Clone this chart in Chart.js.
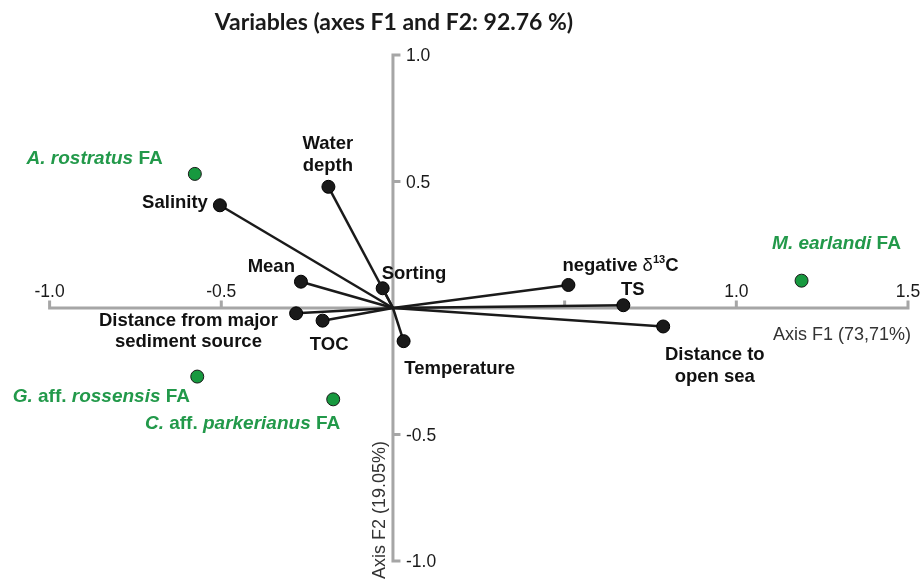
<!DOCTYPE html>
<html>
<head>
<meta charset="utf-8">
<title>Variables (axes F1 and F2: 92.76 %)</title>
<script src="https://cdn.jsdelivr.net/npm/chart.js@4.4.1/dist/chart.umd.min.js"></script>
<style>
  html, body { margin: 0; padding: 0; background: #fff; }
  #wrap { width: 922px; height: 581px; }
</style>
</head>
<body>
<div id="wrap"><canvas id="pcaChart" width="922" height="581"></canvas></div>
<script>
// PCA loadings (F1, F2) of the environmental variables
const variableLabels = ['Water\ndepth', 'Salinity', 'Mean', 'Sorting', 'negative [δ]{13}C', 'TS',
    'Distance to\nopen sea', 'Temperature', 'Distance from major\nsediment source', 'TOC'];
const variableF1 = [-0.188, -0.504, -0.268, -0.030, 0.511, 0.671, 0.787, 0.031, -0.282, -0.205];
const variableF2 = [0.479, 0.406, 0.104, 0.078, 0.091, 0.011, -0.073, -0.131, -0.021, -0.050];

// supplementary points: foraminiferal assemblages
const speciesLabels = ['/A. rostratus/ FA', '/M. earlandi/ FA', '/G./ aff. /rossensis/ FA', '/C./ aff. /parkerianus/ FA'];
const speciesF1 = [-0.577, 1.190, -0.570, -0.174];
const speciesF2 = [0.530, 0.108, -0.271, -0.361];

// axis ticks
const f1Ticks = [-1.0, -0.5, 0.5, 1.0, 1.5];
const f1TickLabels = ['-1.0', '-0.5', '', '1.0', '1.5'];
const f2Ticks = [1.0, 0.5, -0.5, -1.0];
const f2TickLabels = ['1.0', '0.5', '-0.5', '-1.0'];

const chartTitle = 'Variables (axes F1 and F2: 92.76 %)';
const f1Title = 'Axis F1 (73,71%)';
const f2Title = 'Axis F2 (19.05%)';

const AXIS_COLOR = '#a6a6a6';
const DOT_COLOR = '#1a1a1a';
const GREEN = '#17993f';
const GREEN_TEXT = '#22994a';
const SANS = '"Liberation Sans", Arial, sans-serif';
const LABEL_SIZE = 18.5;

// label placement, offsets in px from the marker
const variableLabelPos = [
    { align: 'center', dx: -0.6, dy: -44 },
    { align: 'right', dx: -12, dy: -3.6 },
    { align: 'right', dx: -6, dy: -16.7 },
    { align: 'left', dx: -1, dy: -16 },
    { align: 'left', dx: -6, dy: -21 },
    { align: 'center', dx: 9.4, dy: -16.6 },
    { align: 'center', dx: 51.6, dy: 27 },
    { align: 'left', dx: 0.7, dy: 26.3 },
    { align: 'center', dx: -107.7, dy: 5.7 },
    { align: 'center', dx: 6.6, dy: 22.6 }
];
const speciesLabelPos = [
    { align: 'left', dx: -168.3, dy: -16.7 },
    { align: 'left', dx: -29.5, dy: -38.8 },
    { align: 'left', dx: -184.6, dy: 18.3 },
    { align: 'left', dx: -188.3, dy: 22.4 }
];

// '/x/' italic, '[x]' plain symbol, '{x}' superscript, rest bold
function parseRich(line) {
    return line.split(/(\/[^\/]+\/|\[[^\]]+\]|\{[^}]+\})/).filter(s => s).map(s => {
        if (s[0] === '/') return { t: s.slice(1, -1), style: 'italic bold' };
        if (s[0] === '[') return { t: s.slice(1, -1), style: 'normal' };
        if (s[0] === '{') return { t: s.slice(1, -1), style: 'sup' };
        return { t: s, style: 'bold' };
    });
}

function segFont(style, size) {
    if (style === 'sup') return `bold ${size * 0.6}px ${SANS}`;
    return `${style} ${size}px ${SANS}`;
}

function drawRich(ctx, line, x, cy, align, color, size) {
    const segs = parseRich(line);
    let total = 0;
    segs.forEach(s => { ctx.font = segFont(s.style, size); s.w = ctx.measureText(s.t).width; total += s.w; });
    let cx = align === 'left' ? x : align === 'right' ? x - total : x - total / 2;
    const base = cy + size * 0.358;
    ctx.fillStyle = color;
    ctx.textAlign = 'left';
    ctx.textBaseline = 'alphabetic';
    segs.forEach(s => {
        ctx.font = segFont(s.style, size);
        ctx.fillText(s.t, cx, s.style === 'sup' ? base - size * 0.42 : base);
        cx += s.w;
    });
}

function drawLabels(ctx, xs, ys, f1, f2, labels, layout, color, size) {
    labels.forEach((label, i) => {
        const px = xs.getPixelForValue(f1[i]);
        const py = ys.getPixelForValue(f2[i]);
        const pos = layout[i];
        label.split('\n').forEach((line, k) => {
            drawRich(ctx, line, px + pos.dx, py + pos.dy + k * 21.5, pos.align, color, size);
        });
    });
}

const pcaDecor = {
    id: 'pcaDecor',
    beforeDatasetsDraw(chart) {
        const { ctx, scales: { x, y } } = chart;
        const x0 = x.getPixelForValue(0);
        const y0 = y.getPixelForValue(0);
        ctx.save();
        ctx.strokeStyle = AXIS_COLOR;
        ctx.lineWidth = 3;
        ctx.lineCap = 'butt';

        // F1 axis with upward ticks
        ctx.beginPath();
        ctx.moveTo(x.getPixelForValue(-1) - 1.5, y0);
        ctx.lineTo(x.getPixelForValue(1.5) + 1.5, y0);
        f1Ticks.forEach(v => {
            const px = x.getPixelForValue(v);
            ctx.moveTo(px, y0);
            ctx.lineTo(px, y0 - 7.5);
        });
        // F2 axis with ticks to the right
        ctx.moveTo(x0, y.getPixelForValue(1) - 1.5);
        ctx.lineTo(x0, y.getPixelForValue(-1) + 1.5);
        f2Ticks.forEach(v => {
            const py = y.getPixelForValue(v);
            ctx.moveTo(x0, py);
            ctx.lineTo(x0 + 7.5, py);
        });
        ctx.stroke();

        // tick labels
        ctx.fillStyle = '#1a1a1a';
        ctx.font = `17.5px ${SANS}`;
        ctx.textBaseline = 'alphabetic';
        ctx.textAlign = 'center';
        f1Ticks.forEach((v, i) => {
            ctx.fillText(f1TickLabels[i], x.getPixelForValue(v), y0 - 17 + 6.3);
        });
        ctx.textAlign = 'left';
        f2Ticks.forEach((v, i) => {
            ctx.fillText(f2TickLabels[i], x0 + 13, y.getPixelForValue(v) + 6.3);
        });

        // axis titles
        ctx.fillStyle = '#333';
        ctx.font = `18px ${SANS}`;
        ctx.textAlign = 'right';
        ctx.fillText(f1Title, x.getPixelForValue(1.5) + 3, y0 + 26 + 6.4);
        ctx.save();
        ctx.translate(x0 - 13, y.getPixelForValue(-1) - 51);
        ctx.rotate(-Math.PI / 2);
        ctx.textAlign = 'center';
        ctx.textBaseline = 'middle';
        ctx.fillText(f2Title, 0, 0);
        ctx.restore();

        // chart title
        ctx.fillStyle = '#1a1a1a';
        ctx.font = 'bold 23px Lato, "Open Sans", sans-serif';
        ctx.textAlign = 'center';
        ctx.textBaseline = 'alphabetic';
        ctx.fillText(chartTitle, x0 + 1, 30);
        ctx.restore();
    },
    afterDatasetsDraw(chart) {
        const { ctx, scales: { x, y } } = chart;
        ctx.save();
        drawLabels(ctx, x, y, variableF1, variableF2, variableLabels, variableLabelPos, '#111', LABEL_SIZE);
        drawLabels(ctx, x, y, speciesF1, speciesF2, speciesLabels, speciesLabelPos, GREEN_TEXT, 19);
        ctx.restore();
    }
};

// one segment from the origin to each loading
const vectorSets = variableF1.map((f1, i) => ({
    label: variableLabels[i].replace('\n', ' '),
    data: [{ x: 0, y: 0 }, { x: f1, y: variableF2[i] }],
    showLine: true,
    borderColor: DOT_COLOR,
    borderWidth: 2.5,
    pointRadius: ctx => ctx.dataIndex === 0 ? 0 : 6.5,
    pointBackgroundColor: DOT_COLOR,
    pointBorderColor: '#000',
    pointBorderWidth: 1
}));

const speciesSet = {
    label: 'FA',
    data: speciesF1.map((f1, i) => ({ x: f1, y: speciesF2[i] })),
    showLine: false,
    pointRadius: 6.5,
    pointBackgroundColor: GREEN,
    pointBorderColor: '#1a1a1a',
    pointBorderWidth: 1
};

new Chart(document.getElementById('pcaChart'), {
    type: 'scatter',
    data: { datasets: [...vectorSets, speciesSet] },
    options: {
        responsive: false,
        animation: false,
        events: [],
        layout: { padding: { left: 49.6, right: 14, top: 55, bottom: 20 } },
        scales: {
            x: { type: 'linear', min: -1, max: 1.5, display: false },
            y: { type: 'linear', min: -1, max: 1, display: false }
        },
        plugins: {
            legend: { display: false },
            tooltip: { enabled: false }
        }
    },
    plugins: [pcaDecor]
});
</script>
</body>
</html>
